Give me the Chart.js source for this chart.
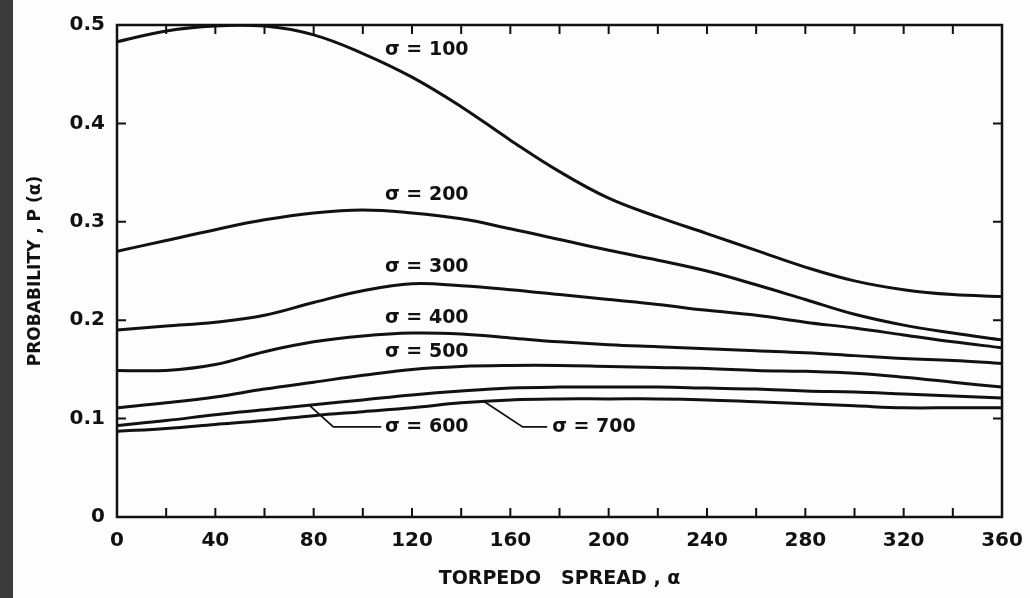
<!DOCTYPE html>
<html>
<head>
<meta charset="utf-8">
<script src="https://cdn.jsdelivr.net/npm/chart.js@4/dist/chart.umd.min.js"></script>
<style>
  html, body { margin: 0; padding: 0; }
  body { width: 1030px; height: 598px; background: linear-gradient(to right, #3a3a3a 13px, #fdfdfd 13px); }
  #wrap { position: relative; width: 1030px; height: 598px; }
</style>
</head>
<body>
<div id="wrap"><canvas id="myLineChart" width="1030" height="598"></canvas></div>
<script>
// torpedo spread, every 20
const spread = [0, 20, 40, 60, 80, 100, 120, 140, 160, 180, 200, 220, 240, 260, 280, 300, 320, 340, 360];

const sigma100 = [0.483, 0.494, 0.499, 0.499, 0.49, 0.471, 0.447, 0.417, 0.383, 0.351, 0.324, 0.305, 0.288, 0.271, 0.254, 0.24, 0.231, 0.226, 0.224];
const sigma200 = [0.27, 0.281, 0.292, 0.302, 0.309, 0.312, 0.309, 0.303, 0.293, 0.282, 0.271, 0.261, 0.25, 0.236, 0.221, 0.206, 0.195, 0.187, 0.18];
const sigma300 = [0.19, 0.194, 0.198, 0.205, 0.218, 0.23, 0.237, 0.235, 0.231, 0.226, 0.221, 0.216, 0.21, 0.205, 0.198, 0.192, 0.185, 0.178, 0.172];
const sigma400 = [0.149, 0.149, 0.155, 0.168, 0.178, 0.184, 0.187, 0.186, 0.182, 0.178, 0.175, 0.173, 0.171, 0.169, 0.167, 0.164, 0.161, 0.159, 0.156];
const sigma500 = [0.111, 0.116, 0.122, 0.13, 0.137, 0.144, 0.15, 0.153, 0.154, 0.154, 0.153, 0.152, 0.151, 0.149, 0.148, 0.146, 0.142, 0.137, 0.132];
const sigma600 = [0.093, 0.098, 0.104, 0.109, 0.114, 0.119, 0.124, 0.128, 0.131, 0.132, 0.132, 0.132, 0.131, 0.13, 0.128, 0.127, 0.125, 0.123, 0.121];
const sigma700 = [0.087, 0.09, 0.094, 0.098, 0.103, 0.107, 0.111, 0.116, 0.119, 0.12, 0.12, 0.12, 0.119, 0.117, 0.115, 0.113, 0.111, 0.111, 0.111];

const seriesNames = ['σ = 100', 'σ = 200', 'σ = 300', 'σ = 400', 'σ = 500', 'σ = 600', 'σ = 700'];
const seriesValues = [sigma100, sigma200, sigma300, sigma400, sigma500, sigma600, sigma700];

const xTickLabels = [0, 40, 80, 120, 160, 200, 240, 280, 320, 360];
const yTickLabels = [0, 0.1, 0.2, 0.3, 0.4, 0.5];

const FONT = '"DejaVu Sans", sans-serif';

// curve labels, placed in data units (x, y at text middle), optional leader line
const curveLabels = [
    { text: 'σ = 100', x: 109, y: 0.475 },
    { text: 'σ = 200', x: 109, y: 0.327 },
    { text: 'σ = 300', x: 109, y: 0.254 },
    { text: 'σ = 400', x: 109, y: 0.202 },
    { text: 'σ = 500', x: 109, y: 0.168 },
    { text: 'σ = 600', x: 109, y: 0.0915, leader: [[78.5, 0.113], [88, 0.0915], [107.5, 0.0915]] },
    { text: 'σ = 700', x: 177, y: 0.0915, leader: [[149, 0.118], [165, 0.0915], [175, 0.0915]] },
];

const framePlugin = {
    id: 'frame',
    afterDraw(chart) {
        const { ctx, chartArea: a, scales } = chart;
        const xs = scales.x, ys = scales.y;
        ctx.save();
        ctx.strokeStyle = '#111';
        ctx.lineWidth = 2.5;
        ctx.strokeRect(a.left, a.top, a.right - a.left, a.bottom - a.top);

        // inward ticks
        ctx.lineWidth = 2;
        ctx.beginPath();
        for (let v = 20; v < 360; v += 20) {
            const px = xs.getPixelForValue(v);
            ctx.moveTo(px, a.bottom); ctx.lineTo(px, a.bottom - 9);
            ctx.moveTo(px, a.top); ctx.lineTo(px, a.top + 9);
        }
        for (const v of [0.1, 0.2, 0.3, 0.4]) {
            const py = ys.getPixelForValue(v);
            ctx.moveTo(a.left, py); ctx.lineTo(a.left + 9, py);
            ctx.moveTo(a.right, py); ctx.lineTo(a.right - 9, py);
        }
        ctx.stroke();

        // curve labels
        ctx.fillStyle = '#111';
        ctx.font = 'bold 19px ' + FONT;
        ctx.textBaseline = 'middle';
        ctx.textAlign = 'left';
        ctx.lineWidth = 1.8;
        for (const lab of curveLabels) {
            ctx.fillText(lab.text, xs.getPixelForValue(lab.x), ys.getPixelForValue(lab.y));
            if (lab.leader) {
                ctx.beginPath();
                lab.leader.forEach(([lx, ly], i) => {
                    const px = xs.getPixelForValue(lx), py = ys.getPixelForValue(ly);
                    if (i === 0) ctx.moveTo(px, py); else ctx.lineTo(px, py);
                });
                ctx.stroke();
            }
        }
        ctx.restore();
    },
};

const ctx = document.getElementById('myLineChart').getContext('2d');

new Chart(ctx, {
    type: 'line',
    data: {
        datasets: seriesValues.map((vals, i) => ({
            label: seriesNames[i],
            data: spread.map((x, j) => ({ x: x, y: vals[j] })),
            borderColor: '#111',
            borderWidth: 3,
            pointRadius: 0,
            fill: false,
            tension: 0.4,
        })),
    },
    options: {
        responsive: false,
        animation: false,
        devicePixelRatio: 1,
        layout: { padding: { left: 13, right: 28, top: 25, bottom: 0 } },
        plugins: { legend: { display: false }, tooltip: { enabled: false } },
        scales: {
            x: {
                type: 'linear',
                min: 0,
                max: 360,
                afterBuildTicks: (s) => { s.ticks = xTickLabels.map((v) => ({ value: v })); },
                afterFit: (s) => { s.height = 81; s.paddingLeft = 0; s.paddingRight = 0; },
                grid: { display: false, drawTicks: false },
                border: { display: false },
                ticks: { color: '#111', padding: 12, maxRotation: 0, autoSkip: false, font: { family: FONT, size: 20, weight: 'bold' } },
                title: {
                    display: true,
                    text: 'TORPEDO   SPREAD , α',
                    color: '#111',
                    padding: { top: 4, bottom: 8 },
                    font: { family: FONT, size: 19, weight: 'bold' },
                },
            },
            y: {
                min: 0,
                max: 0.5,
                afterBuildTicks: (s) => { s.ticks = yTickLabels.map((v) => ({ value: v })); },
                afterFit: (s) => { s.width = 104; },
                grid: { display: false, drawTicks: false },
                border: { display: false },
                ticks: {
                    color: '#111',
                    padding: 12,
                    autoSkip: false,
                    font: { family: FONT, size: 20, weight: 'bold' },
                    callback: (v) => (v === 0 ? '0' : v.toFixed(1)),
                },
                title: {
                    display: true,
                    text: 'PROBABILITY , P (α)',
                    color: '#111',
                    padding: { top: 12, bottom: 4 },
                    font: { family: FONT, size: 17, weight: 'bold' },
                },
            },
        },
    },
    plugins: [framePlugin],
});
</script>
</body>
</html>
